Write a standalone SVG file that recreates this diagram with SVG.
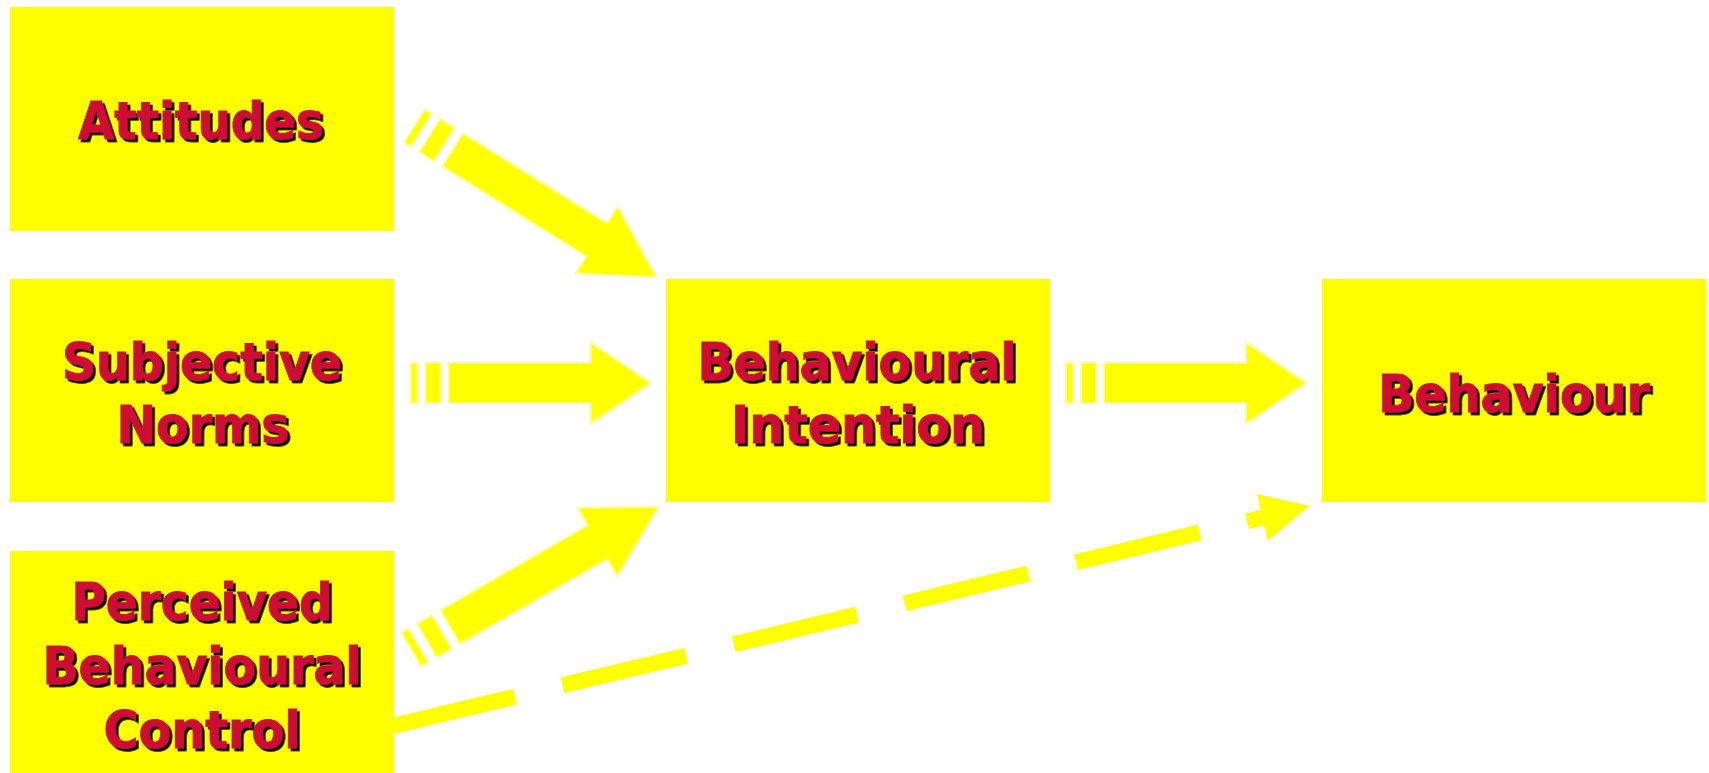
<svg xmlns="http://www.w3.org/2000/svg" width="1709" height="773" viewBox="0 0 1709 773">
<defs>
<style>
.box{fill:#FFFF00}
.arr{fill:#FFFF00;stroke:#FFFF99;stroke-width:2;stroke-linejoin:miter}
.lbl{font-family:"DejaVu Sans Condensed","DejaVu Sans",sans-serif;font-weight:bold;font-size:52px;fill:#CE1036;stroke:#CE1036;stroke-width:0.8;text-anchor:middle;filter:url(#sh)}
</style>
<filter id="sh" x="-5%" y="-20%" width="115%" height="150%">
<feDropShadow dx="2.7" dy="2.7" stdDeviation="0" flood-color="#000" flood-opacity="1"/>
</filter>
<g id="harrow">
<path class="arr" d="M0,0 L-60,-40.5 L-60,-20 L-202,-20 L-202,20 L-60,20 L-60,40.5 Z"/>
<rect class="arr" x="-225" y="-20" width="15" height="40"/>
<rect class="arr" x="-240" y="-20" width="7" height="40"/>
</g>
<g id="darrow">
<path class="arr" d="M0,0 L-70,-39.5 L-70,-19.5 L-240,-19.5 L-240,19.5 L-70,19.5 L-70,39.5 Z"/>
<rect class="arr" x="-267" y="-19.5" width="17" height="39"/>
<rect class="arr" x="-285" y="-19.5" width="8" height="39"/>
</g>
</defs>
<rect width="1709" height="773" fill="#FFFFFF"/>
<g id="connectors">
<use href="#darrow" transform="translate(656,277) rotate(32)"/>
<use href="#harrow" transform="translate(650.5,383)"/>
<use href="#darrow" transform="translate(658,507) rotate(-30)"/>
<use href="#harrow" transform="translate(1306,383)"/>
<line x1="391.3" y1="726.3" x2="1262.3" y2="517.5" stroke="#FFFF00" stroke-width="16" stroke-dasharray="127 49"/>
<polygon points="1309,506 1257,494 1267.7,540.7" fill="#FFFF00"/>
</g>
<g id="attitudes">
<rect class="box" x="10" y="7" width="384" height="224"/>
<text class="lbl" x="201" y="139" textLength="246" lengthAdjust="spacingAndGlyphs">Attitudes</text>
</g>
<g id="subjective-norms">
<rect class="box" x="10" y="279" width="384" height="223"/>
<text class="lbl" x="202" y="380" textLength="280" lengthAdjust="spacingAndGlyphs">Subjective</text>
<text class="lbl" x="203" y="443" textLength="173" lengthAdjust="spacingAndGlyphs">Norms</text>
</g>
<g id="pbc">
<rect class="box" x="10" y="551" width="384" height="222"/>
<text class="lbl" x="202" y="620" textLength="261" lengthAdjust="spacingAndGlyphs">Perceived</text>
<text class="lbl" x="202" y="683.5" textLength="319" lengthAdjust="spacingAndGlyphs">Behavioural</text>
<text class="lbl" x="202" y="748" textLength="197" lengthAdjust="spacingAndGlyphs">Control</text>
</g>
<g id="behavioural-intention">
<rect class="box" x="666" y="279" width="384" height="223"/>
<text class="lbl" x="857" y="380" textLength="319" lengthAdjust="spacingAndGlyphs">Behavioural</text>
<text class="lbl" x="858" y="443" textLength="254" lengthAdjust="spacingAndGlyphs">Intention</text>
</g>
<g id="behaviour">
<rect class="box" x="1322" y="279" width="384" height="223"/>
<text class="lbl" x="1514" y="412" textLength="272" lengthAdjust="spacingAndGlyphs">Behaviour</text>
</g>
</svg>
